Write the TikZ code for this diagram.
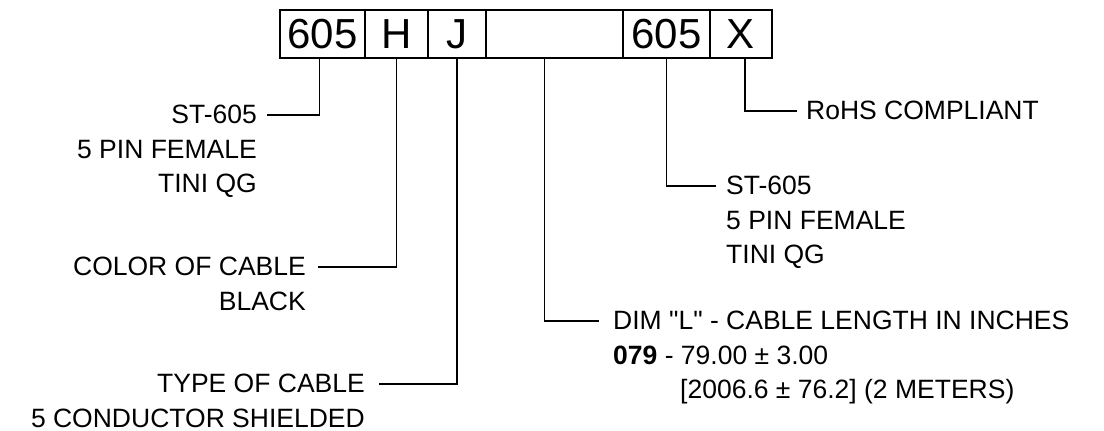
\documentclass[tikz,border=0pt]{standalone}
\usepackage{fontspec}
\setmainfont{Liberation Sans}
\usetikzlibrary{positioning}

\tikzset{
  cell/.style={draw, line width=1.6pt, minimum height=48pt, inner sep=0pt,
               outer sep=0pt, anchor=north west,
               font=\fontsize{42}{42}\selectfont},
  lbl/.style={inner sep=0pt, font=\fontsize{26.5}{34.5}\selectfont},
  lead/.style={line width=1.6pt},
}

\begin{document}
\begin{tikzpicture}[x=1pt, y=-1pt]
  \useasboundingbox (0,0) rectangle (1104,431);

  % part number boxes
  \foreach \i/\x/\w/\t in {1/280/85/605, 2/365/63/H, 3/428/58/J,
                           4/486/137/{}, 5/623/87/605, 6/710/62/X} {
    \node[cell, minimum width=\w pt] (b\i) at (\x, 10) {\t};
  }

  % labels on the left
  \node[lbl, align=right, anchor=north east] (conA) at (257, 105)
    {ST-605\\5 PIN FEMALE\\TINI QG};
  \node[lbl, align=right, anchor=north east] (color) at (306, 257)
    {COLOR OF CABLE\\BLACK};
  \node[lbl, align=right, anchor=north east] (type) at (365, 374)
    {TYPE OF CABLE\\5 CONDUCTOR SHIELDED};

  % labels on the right
  \node[lbl, align=left, anchor=north west] (len) at (613, 311)
    {DIM \textquotedbl L\textquotedbl{} - CABLE LENGTH IN INCHES\\
     \textbf{079} - 79.00 ± 3.00\\
     \hspace*{67pt}[2006.6 ± 76.2] (2 METERS)};
  \node[lbl, align=left, anchor=north west] (conB) at (726, 176)
    {ST-605\\5 PIN FEMALE\\TINI QG};
  \node[lbl, align=left, anchor=north west] (rohs) at (806, 101)
    {RoHS COMPLIANT};

  % leaders
  \draw[lead] ([xshift=-3pt]b1.south) |- ([xshift=10pt, yshift=-10pt]conA.north east);
  \draw[lead] (b2.south) |- ([xshift=12pt, yshift=-10pt]color.north east);
  \draw[lead] (b3.south) |- ([xshift=14pt, yshift=-10pt]type.north east);
  \draw[lead] ([xshift=-10pt]b4.south) |- ([xshift=-14pt, yshift=-10pt]len.north west);
  \draw[lead] (b5.south) |- ([xshift=-10pt, yshift=-10pt]conB.north west);
  \draw[lead] ([xshift=4pt]b6.south) |- ([xshift=-9pt, yshift=-10pt]rohs.north west);
\end{tikzpicture}
\end{document}
